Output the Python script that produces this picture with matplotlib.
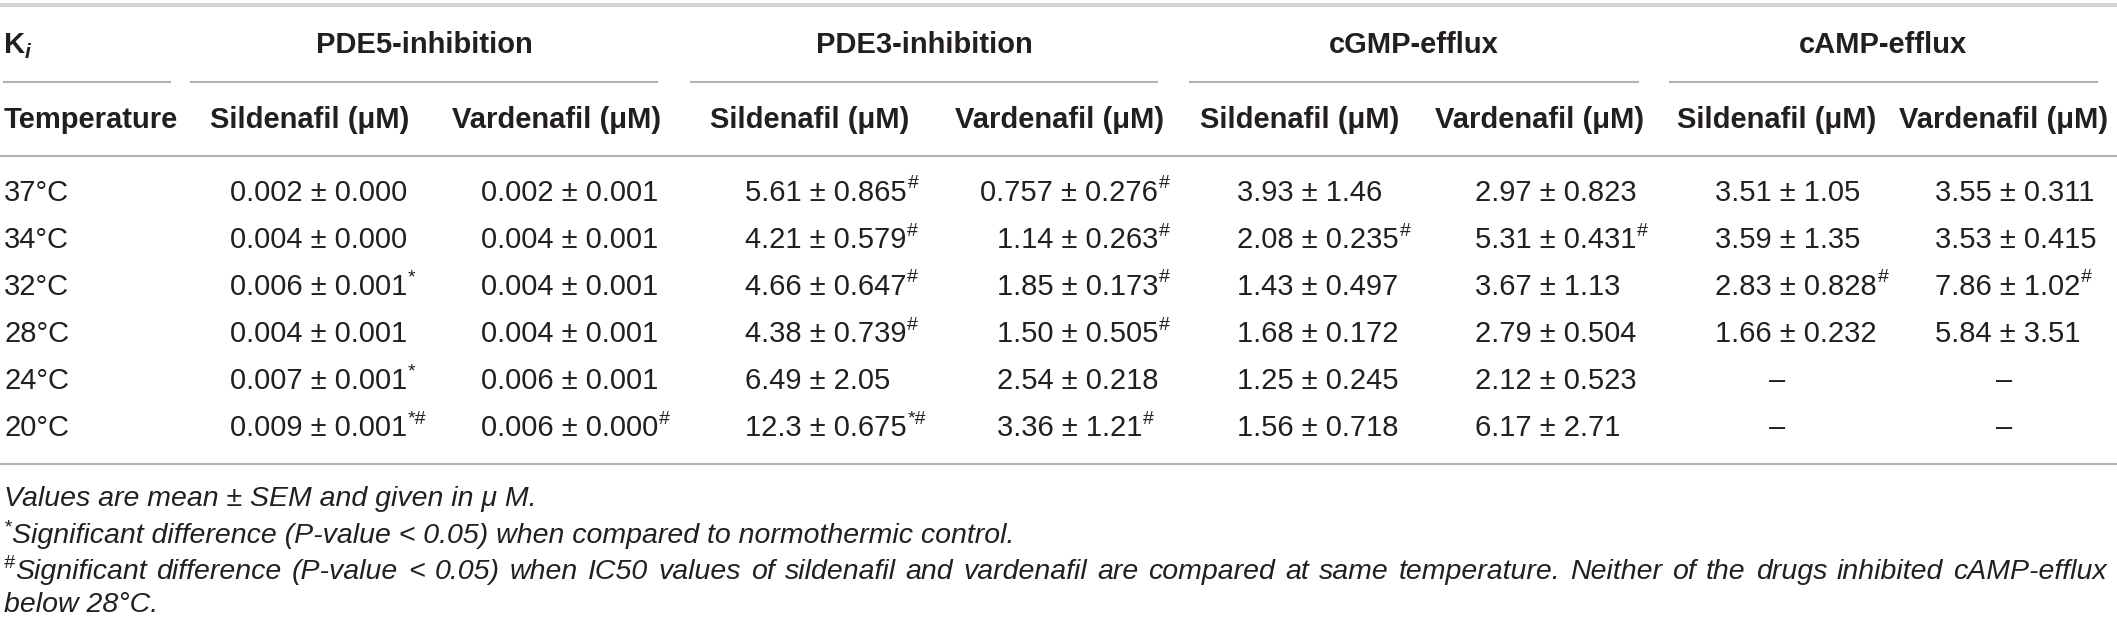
import numpy as np
import matplotlib.pyplot as plt

W, H = 2117, 618
DPI = 100
FONT = "Liberation Sans"
TEXT_COLOR = "#231f20"
LINE_COLOR = "#b4b4b4"
TOP_LINE_COLOR = "#d4d4d4"

temperatures = ["37°C", "34°C", "32°C", "28°C", "24°C", "20°C"]
groups = ["PDE5-inhibition", "PDE3-inhibition", "cGMP-efflux", "cAMP-efflux"]
drugs = ["Sildenafil (μM)", "Vardenafil (μM)"]

pde5_sildenafil = ["0.002 ± 0.000", "0.004 ± 0.000", "0.006 ± 0.001*",
                   "0.004 ± 0.001", "0.007 ± 0.001*", "0.009 ± 0.001*#"]
pde5_vardenafil = ["0.002 ± 0.001", "0.004 ± 0.001", "0.004 ± 0.001",
                   "0.004 ± 0.001", "0.006 ± 0.001", "0.006 ± 0.000#"]
pde3_sildenafil = ["5.61 ± 0.865#", "4.21 ± 0.579#", "4.66 ± 0.647#",
                   "4.38 ± 0.739#", "6.49 ± 2.05", "12.3 ± 0.675*#"]
pde3_vardenafil = ["0.757 ± 0.276#", "1.14 ± 0.263#", "1.85 ± 0.173#",
                   "1.50 ± 0.505#", "2.54 ± 0.218", "3.36 ± 1.21#"]
cgmp_sildenafil = ["3.93 ± 1.46", "2.08 ± 0.235#", "1.43 ± 0.497",
                   "1.68 ± 0.172", "1.25 ± 0.245", "1.56 ± 0.718"]
cgmp_vardenafil = ["2.97 ± 0.823", "5.31 ± 0.431#", "3.67 ± 1.13",
                   "2.79 ± 0.504", "2.12 ± 0.523", "6.17 ± 2.71"]
camp_sildenafil = ["3.51 ± 1.05", "3.59 ± 1.35", "2.83 ± 0.828#",
                   "1.66 ± 0.232", "–", "–"]
camp_vardenafil = ["3.55 ± 0.311", "3.53 ± 0.415", "7.86 ± 1.02#",
                   "5.84 ± 3.51", "–", "–"]

footnotes = [
    ("", "Values are mean ± SEM and given in μ M."),
    ("*", "Significant difference (P-value < 0.05) when compared to normothermic control."),
    ("#", "Significant difference (P-value < 0.05) when IC50 values of sildenafil and "
          "vardenafil are compared at same temperature. Neither of the drugs inhibited cAMP-efflux"),
    ("", "below 28°C."),
]

# layout in pixels
COL_CENTER = [310, 557, 810, 1060, 1300, 1540, 1777, 2004]
COL_LEFT = [230, 481, 745, 997, 1237, 1475, 1715, 1935]
GROUP_SPAN = [(191, 657), (691, 1157), (1190, 1638), (1670, 2097)]
KI_SPAN = (4, 170)
Y_TOP_LINE = 5
Y_GROUP = 45
Y_UNDER = 82
Y_SUB = 120
Y_HEAD_LINE = 156
Y_ROWS = [193, 240, 287, 334, 381, 428]
Y_BOTTOM_LINE = 464
Y_NOTES = [499, 536, 572, 605]
NOTE_RIGHT = 2107

SIZE = 21
SUP_SIZE = 14
NOTE_SIZE = 20.5


def width_of(ax, renderer, s, **kw):
    t = ax.text(0, 0, s, fontfamily=FONT, **kw)
    w = t.get_window_extent(renderer).width
    t.remove()
    return w


def draw_cell(ax, renderer, value, x_pm, x_center, y):
    if value == "–":
        ax.text(x_center, y, value, ha="center", va="center",
                fontsize=SIZE, fontfamily=FONT, color=TEXT_COLOR)
        return
    marks = ""
    while value[-1] in "*#":
        marks = value[-1] + marks
        value = value[:-1]
    first = value.split(" ± ")[0]
    offset = width_of(ax, renderer, first + " ±", fontsize=SIZE) - \
        width_of(ax, renderer, "±", fontsize=SIZE)
    x0 = x_pm - offset
    t = ax.text(x0, y, value, ha="left", va="center",
                fontsize=SIZE, fontfamily=FONT, color=TEXT_COLOR)
    if marks:
        x1 = x0 + t.get_window_extent(renderer).width
        ax.text(x1 + 1, y - 9, marks, ha="left", va="center",
                fontsize=SUP_SIZE, fontfamily=FONT, color=TEXT_COLOR)


def draw_justified(ax, renderer, mark, text, y, x_start, x_end):
    x = x_start
    if mark:
        ax.text(x, y - 8, mark, ha="left", va="center", fontsize=SUP_SIZE,
                fontfamily=FONT, fontstyle="italic", color=TEXT_COLOR)
        x += width_of(ax, renderer, mark, fontsize=SUP_SIZE, fontstyle="italic")
    words = text.split(" ")
    widths = [width_of(ax, renderer, w, fontsize=NOTE_SIZE, fontstyle="italic")
              for w in words]
    gap = (x_end - x - sum(widths)) / (len(words) - 1)
    for word, w in zip(words, widths):
        ax.text(x, y, word, ha="left", va="center", fontsize=NOTE_SIZE,
                fontfamily=FONT, fontstyle="italic", color=TEXT_COLOR)
        x += w + gap


def main():
    fig = plt.figure(figsize=(W / DPI, H / DPI), dpi=DPI)
    ax = fig.add_axes([0, 0, 1, 1])
    ax.set_xlim(0, W)
    ax.set_ylim(H, 0)
    ax.axis("off")
    renderer = fig.canvas.get_renderer()

    columns = [pde5_sildenafil, pde5_vardenafil, pde3_sildenafil,
               pde3_vardenafil, cgmp_sildenafil, cgmp_vardenafil,
               camp_sildenafil, camp_vardenafil]

    # rules
    ax.plot([0, W], [Y_TOP_LINE, Y_TOP_LINE], color=TOP_LINE_COLOR, lw=3)
    ax.plot(KI_SPAN, [Y_UNDER, Y_UNDER], color=LINE_COLOR, lw=1.5)
    for x0, x1 in GROUP_SPAN:
        ax.plot([x0, x1], [Y_UNDER, Y_UNDER], color=LINE_COLOR, lw=1.5)
    ax.plot([0, W], [Y_HEAD_LINE, Y_HEAD_LINE], color=LINE_COLOR, lw=1.5)
    ax.plot([0, W], [Y_BOTTOM_LINE, Y_BOTTOM_LINE], color=LINE_COLOR, lw=1.5)

    # header
    ax.text(4, Y_GROUP, "K", ha="left", va="center", fontsize=SIZE,
            fontfamily=FONT, fontweight="bold", color=TEXT_COLOR)
    kw = width_of(ax, renderer, "K", fontsize=SIZE, fontweight="bold")
    ax.text(4 + kw, Y_GROUP + 7, "i", ha="left", va="center", fontsize=15,
            fontfamily=FONT, fontweight="bold", fontstyle="italic",
            color=TEXT_COLOR)
    for name, (x0, x1) in zip(groups, GROUP_SPAN):
        ax.text((x0 + x1) / 2, Y_GROUP, name, ha="center", va="center",
                fontsize=SIZE, fontfamily=FONT, fontweight="bold",
                color=TEXT_COLOR)
    ax.text(4, Y_SUB, "Temperature", ha="left", va="center", fontsize=SIZE,
            fontfamily=FONT, fontweight="bold", color=TEXT_COLOR)
    for i, xc in enumerate(COL_CENTER):
        ax.text(xc, Y_SUB, drugs[i % 2], ha="center", va="center",
                fontsize=SIZE, fontfamily=FONT, fontweight="bold",
                color=TEXT_COLOR)

    # body
    for temp, y in zip(temperatures, Y_ROWS):
        ax.text(4, y, temp, ha="left", va="center", fontsize=SIZE,
                fontfamily=FONT, color=TEXT_COLOR)
    for col, xl, xc in zip(columns, COL_LEFT, COL_CENTER):
        first = col[1].split(" ± ")[0]
        x_pm = xl + width_of(ax, renderer, first + " ±", fontsize=SIZE) - \
            width_of(ax, renderer, "±", fontsize=SIZE)
        for value, y in zip(col, Y_ROWS):
            draw_cell(ax, renderer, value, x_pm, xc, y)

    # footnotes
    for i, ((mark, note), y) in enumerate(zip(footnotes, Y_NOTES)):
        if i == 2:
            draw_justified(ax, renderer, mark, note, y, 4, NOTE_RIGHT)
            continue
        x = 4
        if mark:
            ax.text(x, y - 8, mark, ha="left", va="center", fontsize=SUP_SIZE,
                    fontfamily=FONT, fontstyle="italic", color=TEXT_COLOR)
            x += width_of(ax, renderer, mark, fontsize=SUP_SIZE, fontstyle="italic")
        ax.text(x, y, note, ha="left", va="center", fontsize=NOTE_SIZE,
                fontfamily=FONT, fontstyle="italic", color=TEXT_COLOR)

    fig.savefig("out.png", dpi=DPI)
    plt.close(fig)


if __name__ == "__main__":
    main()
